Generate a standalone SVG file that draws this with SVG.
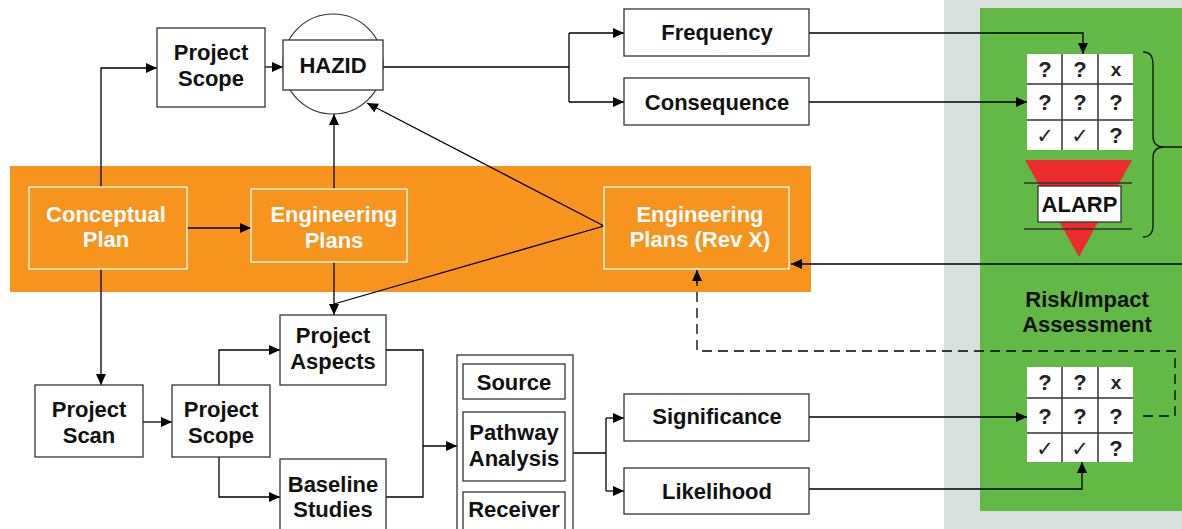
<svg xmlns="http://www.w3.org/2000/svg" width="1182" height="529" viewBox="0 0 1182 529">
<defs>
<marker id="ah" markerUnits="userSpaceOnUse" markerWidth="12" markerHeight="10" refX="11" refY="5" orient="auto"><path d="M0,0 L11,5 L0,10 z" fill="#000"/></marker>
<style>
.box{fill:#fff;stroke:#333;stroke-width:1.3}
.obox{fill:none;stroke:#fff;stroke-width:1.3}
.t{font-family:"Liberation Sans",Arial,sans-serif;font-weight:bold;font-size:22px;fill:#111;text-anchor:middle}
.w{fill:#fff}
.c{fill:none;stroke:#000;stroke-width:1.3}
.d{fill:none;stroke:#000;stroke-width:1.3;stroke-dasharray:10,6}
.q{font-family:"Liberation Sans",Arial,sans-serif;font-weight:bold;font-size:22px;fill:#222;text-anchor:middle}
.ck{font-family:"DejaVu Sans",sans-serif;font-size:21px;fill:#222;text-anchor:middle}
.grid{stroke:#333;stroke-width:1.5}
</style>
</defs>
<rect x="944" y="0" width="238" height="529" fill="#d8e0dd"/>
<rect x="980" y="8" width="202" height="503" fill="#63b946"/>
<rect x="10" y="166" width="801" height="126" fill="#f7941e"/>

<g id="connectors">
<path class="c" d="M101,187 V68 H157" marker-end="url(#ah)"/>
<path class="c" d="M265,67 H283" marker-end="url(#ah)"/>
<path class="c" d="M383,67 H569 M569,33 V102"/>
<path class="c" d="M569,33 H624" marker-end="url(#ah)"/>
<path class="c" d="M569,102 H624" marker-end="url(#ah)"/>
<path class="c" d="M809,33 H1083 V54" marker-end="url(#ah)"/>
<path class="c" d="M809,102 H1027" marker-end="url(#ah)"/>
<path class="c" d="M187,228 H251" marker-end="url(#ah)"/>
<path class="c" d="M334,189 V114" marker-end="url(#ah)"/>
<path class="c" d="M604,226 L367,103" marker-end="url(#ah)"/>
<path class="c" d="M334,262 V315" marker-end="url(#ah)"/>
<path class="c" d="M604,226 L334,304"/>
<path class="c" d="M101,269 V385" marker-end="url(#ah)"/>
<path class="c" d="M143,422 H172" marker-end="url(#ah)"/>
<path class="c" d="M219,385 V350 H280" marker-end="url(#ah)"/>
<path class="c" d="M219,457 V497 H280" marker-end="url(#ah)"/>
<path class="c" d="M386,350 H423 V497 H386"/>
<path class="c" d="M423,446 H457" marker-end="url(#ah)"/>
<path class="c" d="M573,453 H606 M606,418 V491"/>
<path class="c" d="M606,418 H624" marker-end="url(#ah)"/>
<path class="c" d="M606,491 H624" marker-end="url(#ah)"/>
<path class="c" d="M809,417 H1027" marker-end="url(#ah)"/>
<path class="c" d="M809,489 H1082 V462" marker-end="url(#ah)"/>
<path class="c" d="M1182,264 H791" marker-end="url(#ah)"/>
<path class="d" d="M1143,416 H1175 V351 H697 V282"/>
<path class="c" d="M697,283 V270" marker-end="url(#ah)"/>
</g>

<g id="project-scope-top"><rect class="box" x="157" y="28" width="108" height="79"/><text class="t" x="211" y="60">Project</text><text class="t" x="211" y="86">Scope</text></g>
<g id="hazid"><circle cx="333" cy="64" r="50" fill="#fff" stroke="#333" stroke-width="1.2"/><rect class="box" x="283" y="40" width="100" height="50"/><text class="t" x="333" y="73">HAZID</text></g>
<g id="frequency"><rect class="box" x="624" y="9" width="185" height="47"/><text class="t" x="717" y="40">Frequency</text></g>
<g id="consequence"><rect class="box" x="624" y="78" width="185" height="47"/><text class="t" x="717" y="110">Consequence</text></g>
<g id="conceptual-plan"><rect class="obox" x="29" y="187" width="158" height="82"/><text class="t w" x="106" y="222">Conceptual</text><text class="t w" x="106" y="247">Plan</text></g>
<g id="engineering-plans"><rect class="obox" x="251" y="189" width="156" height="73"/><text class="t w" x="334" y="222">Engineering</text><text class="t w" x="334" y="248">Plans</text></g>
<g id="engineering-plans-rev-x"><rect class="obox" x="604" y="187" width="185" height="82"/><text class="t w" x="700" y="222">Engineering</text><text class="t w" x="700" y="247">Plans (Rev X)</text></g>
<g id="project-aspects"><rect class="box" x="280" y="315" width="106" height="70"/><text class="t" x="333" y="343">Project</text><text class="t" x="333" y="369">Aspects</text></g>
<g id="project-scan"><rect class="box" x="35" y="385" width="108" height="72"/><text class="t" x="89" y="417">Project</text><text class="t" x="89" y="443">Scan</text></g>
<g id="project-scope-bottom"><rect class="box" x="172" y="385" width="98" height="72"/><text class="t" x="221" y="417">Project</text><text class="t" x="221" y="443">Scope</text></g>
<g id="baseline-studies"><rect class="box" x="280" y="459" width="106" height="80"/><text class="t" x="333" y="492">Baseline</text><text class="t" x="333" y="517">Studies</text></g>
<g id="analysis"><rect class="box" x="457" y="355" width="116" height="185"/>
<rect class="box" x="463" y="364" width="102" height="35"/><text class="t" x="514" y="390">Source</text>
<rect class="box" x="463" y="412" width="102" height="69"/><text class="t" x="514" y="440">Pathway</text><text class="t" x="514" y="466">Analysis</text>
<rect class="box" x="463" y="492" width="102" height="45"/><text class="t" x="514" y="517">Receiver</text></g>
<g id="significance"><rect class="box" x="624" y="394" width="185" height="47"/><text class="t" x="717" y="424">Significance</text></g>
<g id="likelihood"><rect class="box" x="624" y="468" width="185" height="46"/><text class="t" x="717" y="499">Likelihood</text></g>

<g id="risk-matrix">
<rect x="1027" y="54" width="106" height="96" fill="#fff"/>
<path class="grid" d="M1027,84 H1133 M1027,120 H1133 M1062,54 V150 M1098,54 V150"/>
<text class="q" x="1045" y="77">?</text><text class="q" x="1080" y="77">?</text><text class="q" x="1116" y="76" style="font-size:19px">x</text>
<text class="q" x="1045" y="110">?</text><text class="q" x="1080" y="110">?</text><text class="q" x="1116" y="110">?</text>
<text class="ck" x="1045" y="143">✓</text><text class="ck" x="1080" y="143">✓</text><text class="q" x="1116" y="143">?</text>
</g>
<g id="alarp">
<polygon points="1025,160 1132,160 1079,257" fill="#ed2a2e"/>
<path d="M1024,183 H1132 M1024,229 H1132" stroke="#333" stroke-width="1.3"/>
<rect class="box" x="1038" y="186" width="83" height="36"/>
<text class="t" x="1079.5" y="212">ALARP</text>
</g>
<path id="brace" d="M1143,52 Q1153,52 1153,64 V136 Q1153,147 1164,147 H1182 M1164,147 Q1153,147 1153,158 V225 Q1153,237 1143,237" fill="none" stroke="#111" stroke-width="1.3"/>
<g id="risk-impact-label"><text class="t" x="1087" y="307">Risk/Impact</text><text class="t" x="1087" y="332">Assessment</text></g>
<g id="impact-matrix">
<rect x="1027" y="367" width="106" height="95" fill="#fff"/>
<path class="grid" d="M1027,398 H1133 M1027,433 H1133 M1062,367 V462 M1098,367 V462"/>
<text class="q" x="1045" y="390">?</text><text class="q" x="1080" y="390">?</text><text class="q" x="1116" y="389" style="font-size:19px">x</text>
<text class="q" x="1045" y="424">?</text><text class="q" x="1080" y="424">?</text><text class="q" x="1116" y="424">?</text>
<text class="ck" x="1045" y="456">✓</text><text class="ck" x="1080" y="456">✓</text><text class="q" x="1116" y="456">?</text>
</g>
</svg>
